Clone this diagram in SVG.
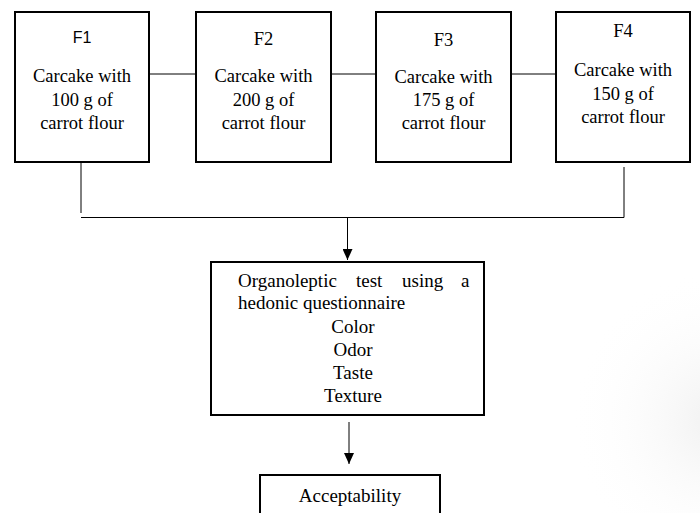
<svg xmlns="http://www.w3.org/2000/svg" width="700" height="513" viewBox="0 0 700 513">
<style>
.box{fill:#fff;stroke:#000;stroke-width:2}
.t{font-family:"Liberation Serif","Times New Roman",serif;font-size:18.5px;fill:#000;text-anchor:middle}
.s{font-family:"Liberation Sans",Arial,sans-serif;font-size:16px;fill:#000;text-anchor:middle}
.c{stroke:#000;stroke-width:1;fill:none}
</style>
<defs>
<marker id="ah" markerWidth="12" markerHeight="10" refX="11" refY="5" orient="auto" markerUnits="userSpaceOnUse" viewBox="0 0 12 10">
<path d="M0,0 L11,5 L0,10 Z" fill="#000"/>
</marker>
<radialGradient id="shade" cx="720" cy="420" r="150" gradientUnits="userSpaceOnUse">
<stop offset="0" stop-color="#f0f0f0"/>
<stop offset="1" stop-color="#ffffff" stop-opacity="0"/>
</radialGradient>
</defs>
<rect width="700" height="513" fill="#fff"/>
<rect x="560" y="260" width="140" height="253" fill="url(#shade)"/>
<g id="connectors">
<line class="c" x1="149" y1="74" x2="196" y2="74"/>
<line class="c" x1="331" y1="74" x2="376" y2="74"/>
<line class="c" x1="511" y1="74" x2="556" y2="74"/>
<line class="c" x1="81" y1="162" x2="81" y2="213"/>
<line class="c" x1="81" y1="217.5" x2="624" y2="217.5"/>
<line class="c" x1="624" y1="167" x2="624" y2="217.5"/>
<line class="c" x1="347.5" y1="218" x2="347.5" y2="260" marker-end="url(#ah)"/>
<line class="c" x1="349" y1="422" x2="349" y2="464" marker-end="url(#ah)"/>
</g>
<g id="F1">
<rect class="box" x="15" y="12" width="134" height="150"/>
<text class="s" x="82" y="43">F1</text>
<text class="t" x="82" y="82">Carcake with</text>
<text class="t" x="82" y="106">100 g of</text>
<text class="t" x="82" y="129">carrot flour</text>
</g>
<g id="F2">
<rect class="box" x="196" y="12" width="135" height="150"/>
<text class="t" x="263.5" y="45">F2</text>
<text class="t" x="263.5" y="82">Carcake with</text>
<text class="t" x="263.5" y="106">200 g of</text>
<text class="t" x="263.5" y="129">carrot flour</text>
</g>
<g id="F3">
<rect class="box" x="376" y="12" width="135" height="150"/>
<text class="t" x="443.5" y="46">F3</text>
<text class="t" x="443.5" y="83">Carcake with</text>
<text class="t" x="443.5" y="106">175 g of</text>
<text class="t" x="443.5" y="129">carrot flour</text>
</g>
<g id="F4">
<rect class="box" x="556" y="12" width="134" height="150"/>
<text class="t" x="623" y="37">F4</text>
<text class="t" x="623" y="76">Carcake with</text>
<text class="t" x="623" y="100">150 g of</text>
<text class="t" x="623" y="123">carrot flour</text>
</g>
<g id="organoleptic">
<rect class="box" x="211" y="262" width="273" height="153"/>
<text class="t" style="text-anchor:start;font-size:19px" y="287"><tspan x="238">Organoleptic</tspan><tspan x="356">test</tspan><tspan x="402">using</tspan><tspan x="461">a</tspan></text>
<text class="t" style="text-anchor:start;font-size:19px" x="238" y="309">hedonic questionnaire</text>
<text class="t" style="font-size:19px" x="353" y="333">Color</text>
<text class="t" style="font-size:19px" x="353" y="356">Odor</text>
<text class="t" style="font-size:19px" x="353" y="379">Taste</text>
<text class="t" style="font-size:19px" x="353" y="402">Texture</text>
</g>
<g id="acceptability">
<rect class="box" x="260" y="475" width="180" height="50"/>
<text class="t" style="font-size:19px" x="350" y="502">Acceptability</text>
</g>
</svg>
